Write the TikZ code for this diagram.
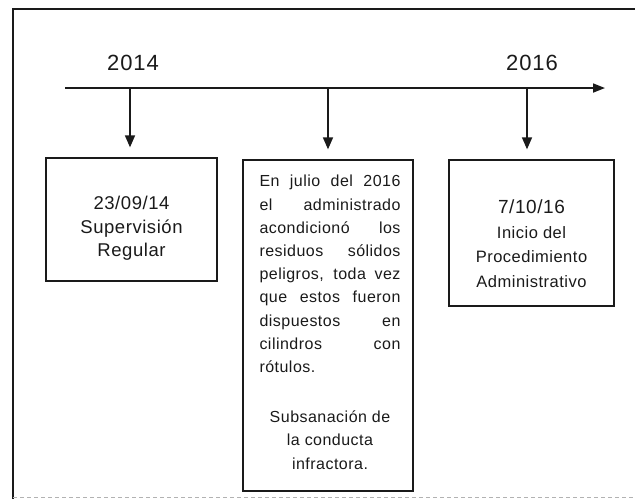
\documentclass[tikz,border=0pt]{standalone}
\usepackage{fontspec}
\setmainfont{Liberation Sans}
\newfontfamily\boxfont[LetterSpace=3]{Liberation Sans}
\newfontfamily\yearfont[LetterSpace=4]{Liberation Sans}
\usetikzlibrary{arrows.meta}
\definecolor{ink}{HTML}{1A1A1A}
\begin{document}
\begin{tikzpicture}[x=1pt,y=-1pt,
  frameline/.style={line width=2.2pt, draw=ink},
  tline/.style={line width=1.7pt, draw=ink, -{Triangle[length=12pt,width=9pt]}},
  dropline/.style={line width=1.6pt, draw=ink, -{Triangle[length=12pt,width=10pt]}, shorten >=10pt},
  evbox/.style={draw=ink, line width=1.3pt, inner sep=0pt, rectangle},
  txt/.style={text=ink, inner sep=0pt},
  yearlbl/.style={text=ink, inner sep=0pt, font=\yearfont\fontsize{22}{22}\selectfont}
]
\path[use as bounding box] (0,0) rectangle (635,499);

% outer frame (cut off at right and bottom)
\draw[frameline] (13,499) -- (13,9) -- (635,9);
\draw[black!30, line width=0.8pt, dash pattern=on 4pt off 3pt] (13,497.5) -- (635,497.5);

% year labels
\node[yearlbl, anchor=base] (y2014) at (133,70) {2014};
\node[yearlbl, anchor=base] (y2016) at (532,70) {2016};

% boxes
\node[evbox, minimum width=171pt, minimum height=123pt] (b1) at (131.5,219.5) {};
\node[evbox, minimum width=170pt, minimum height=331pt] (b2) at (328,325.5) {};
\node[evbox, minimum width=165pt, minimum height=146pt] (b3) at (531.5,233) {};

% timeline
\coordinate (tl0) at (65,88);
\coordinate (tl1) at (605,88);
\draw[tline] (tl0) -- (tl1);

\coordinate (d1) at (130,88);
\coordinate (d2) at (328,88);
\coordinate (d3) at (527,88);
\draw[dropline] (d1) -- (d1 |- b1.north);
\draw[dropline] (d2) -- (d2 |- b2.north);
\draw[dropline] (d3) -- (d3 |- b3.north);

% box texts
\node[txt, anchor=north, align=center, font=\boxfont\fontsize{18.5}{23.5}\selectfont] (b1t) at (131.5,196) {23/09/14\\Supervisión\\Regular};

\node[txt, anchor=north, align=left, font=\boxfont\fontsize{16}{23.2}\selectfont] (b2t) at (330,175) {%
\makebox[141pt][s]{En julio del 2016}\\
\makebox[141pt][s]{el administrado}\\
\makebox[141pt][s]{acondicionó los}\\
\makebox[141pt][s]{residuos sólidos}\\
\makebox[141pt][s]{peligros, toda vez}\\
\makebox[141pt][s]{que estos fueron}\\
\makebox[141pt][s]{dispuestos en}\\
\makebox[141pt][s]{cilindros con}\\
\makebox[141pt][l]{rótulos.}\\[27pt]
\makebox[141pt][c]{Subsanación de}\\
\makebox[141pt][c]{la conducta}\\
\makebox[141pt][c]{infractora.}};

\node[txt, anchor=north, align=center, font=\boxfont\fontsize{16.5}{24.5}\selectfont] (b3t) at (531.5,200) {{\fontsize{19}{26}\selectfont 7/10/16}\\Inicio del\\Procedimiento\\Administrativo};
\end{tikzpicture}
\end{document}
